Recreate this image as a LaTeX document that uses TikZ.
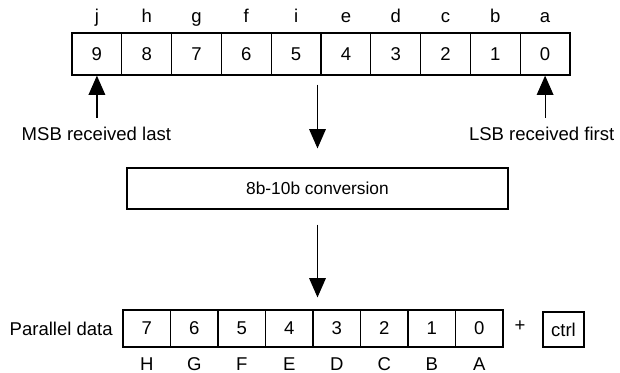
\documentclass[tikz,border=0pt]{standalone}
\usepackage{fontspec}
\setmainfont{Liberation Sans}
\usetikzlibrary{arrows.meta}

\begin{document}
\begin{tikzpicture}[x=0.75pt,y=-0.75pt,
    every node/.style={font=\fontsize{13.9}{16}\selectfont},
    serbit/.style={draw,line width=0.9pt,minimum width=37.35pt,minimum height=31.5pt,inner sep=0pt},
    parbit/.style={draw,line width=0.9pt,minimum width=35.6pt,minimum height=27.75pt,inner sep=0pt},
    arr/.style={line width=0.9pt,-{Triangle[length=14.5pt,width=12.5pt]}}]
  \useasboundingbox (0,0) rectangle (620,372);

  % serial word, a comes in first
  \foreach \l [count=\k from 0] in {j,h,g,f,i,e,d,c,b,a} {
    \pgfmathtruncatemacro\d{9-\k}
    \node[serbit] (s\d) at (72+49.8*\k+24.9,54) {\d};
    \node[anchor=base] (sl\d) at (72+49.8*\k+24.9,22) {\l};
  }

  \node[anchor=base west] (msb) at (17,140) {MSB received last};
  \node[anchor=base east] (lsb) at (619,140) {LSB received first};
  \path (s9.south) ++(0,42) coordinate (msbfoot);
  \path (s0.south) ++(0,42) coordinate (lsbfoot);
  \draw[arr] (msbfoot) -- (s9.south);
  \draw[arr] (lsbfoot) -- (s0.south);

  \node[draw,line width=0.9pt,minimum width=285.75pt,minimum height=30.75pt,font=\fontsize{13}{15}\selectfont] (conv) at (317.5,188.5) {8b-10b conversion};

  % parallel byte
  \foreach \l [count=\k from 0] in {H,G,F,E,D,C,B,A} {
    \pgfmathtruncatemacro\d{7-\k}
    \node[parbit] (p\d) at (123+47.5*\k+23.75,328.5) {\d};
    \node[anchor=base] (pl\d) at (123+47.5*\k+23.75,370) {\l};
  }
  \node[anchor=base west] (pdata) at (5,335) {Parallel data};
  \node (plus) at (520,326) {+};
  \node[draw,line width=0.9pt,minimum width=30.75pt,minimum height=26.25pt,inner sep=1pt] (ctrl) at (563.5,329.5) {ctrl};

  \draw[arr,shorten <=6.75pt,shorten >=14.25pt] (conv.north |- s5.south) -- (conv.north);
  \draw[arr,shorten <=11.25pt,shorten >=9pt] (conv.south) -- (conv.south |- p3.north);
\end{tikzpicture}
\end{document}
